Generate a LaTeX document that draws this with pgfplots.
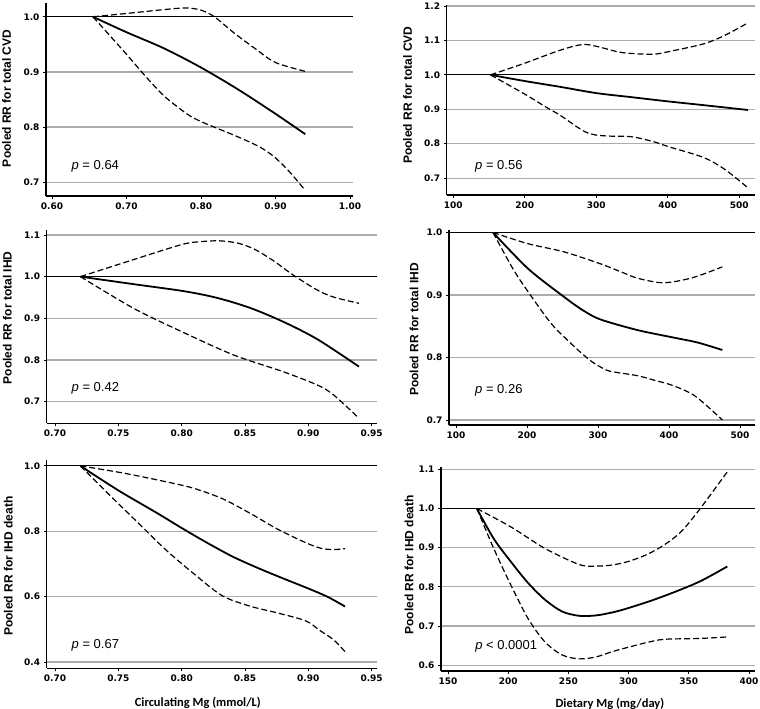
\documentclass[border=0pt]{standalone}
\usepackage{pgfplots}
\pgfplotsset{compat=1.18}
\usepackage{fontspec}
\setmainfont{Liberation Sans}
\newfontfamily\tickfont{DejaVu Sans}
\newfontfamily\calfont{Carlito}
\definecolor{gridgray}{RGB}{172,172,172}

\pgfplotsset{
  panel/.style={
    scale only axis,
    anchor=south west,
    axis x line=bottom,
    axis y line=left,
    axis line style={-, line width=1.3pt},
    tick align=outside,
    major tick length=3pt,
    every tick/.style={black, line width=0.8pt},
    ymajorgrids,
    major grid style={gridgray, line width=1.2pt},
    extra y ticks={1},
    extra y tick labels={},
    extra y tick style={major grid style={black, line width=1.2pt}},
    tick label style={font=\tickfont\bfseries\fontsize{9}{10}\selectfont},
    /pgf/number format/assume math mode=true,
    y tick label style={/pgf/number format/.cd, fixed, fixed zerofill, precision=1},
    ylabel style={font=\bfseries\fontsize{12}{14}\selectfont, anchor=center},
    xlabel style={font=\calfont\bfseries\fontsize{12.5}{14}\selectfont, anchor=center},
  },
  mgx/.style={x tick label style={/pgf/number format/.cd, fixed, fixed zerofill, precision=2}},
  dietx/.style={x tick label style={/pgf/number format/.cd, fixed, precision=0}},
  est/.style={black, line width=1.8pt, smooth, no marks},
  ci/.style={black, line width=1.2pt, dash pattern=on 6pt off 3pt, smooth, no marks},
}
\newcommand\pval[1]{{\fontsize{13}{15}\selectfont #1}}

\begin{document}
\begin{tikzpicture}
\useasboundingbox (0,0) rectangle (760pt,709pt);

% ---- circulating Mg, total CVD
\begin{axis}[panel, mgx, at={(46pt,513pt)}, width=307pt, height=193pt,
  xmin=0.592, xmax=1.004, ymin=0.675, ymax=1.025,
  xtick={0.6,0.7,0.8,0.9,1.0}, ytick={0.7,0.8,0.9,1.0},
  ylabel={Pooled RR for total CVD},
  ylabel style={at={(rel axis cs:-0.128,0.506)}}]
\addplot[est] coordinates {(0.655,1.000) (0.70,0.972) (0.75,0.943) (0.80,0.908) (0.85,0.868) (0.90,0.824) (0.94,0.787)};
\addplot[ci] coordinates {(0.655,1.000) (0.70,1.006) (0.75,1.013) (0.78,1.016) (0.80,1.012) (0.818,1.000) (0.845,0.970) (0.873,0.942) (0.90,0.917) (0.94,0.901)};
\addplot[ci] coordinates {(0.655,1.000) (0.70,0.932) (0.723,0.896) (0.75,0.857) (0.78,0.825) (0.80,0.810) (0.85,0.782) (0.88,0.763) (0.90,0.744) (0.92,0.717) (0.94,0.685)};
\node[anchor=west] at (rel axis cs:0.072,0.155) {\pval{\textit{p} = 0.64}};
\end{axis}

% ---- dietary Mg, total CVD
\begin{axis}[panel, dietx, at={(446.7pt,514pt)}, width=308.3pt, height=190pt,
  xmin=90.8, xmax=522, ymin=0.651, ymax=1.203,
  xtick={100,200,300,400,500}, ytick={0.7,0.8,0.9,1.0,1.1,1.2},
  ylabel={Pooled RR for total CVD},
  ylabel style={at={(rel axis cs:-0.127,0.526)}}]
\addplot[est] coordinates {(152,1.000) (200,0.982) (250,0.965) (300,0.947) (350,0.935) (400,0.923) (450,0.912) (512,0.898)};
\addplot[ci] coordinates {(152,1.000) (200,1.034) (250,1.072) (280,1.088) (300,1.083) (330,1.067) (350,1.062) (380,1.060) (400,1.067) (450,1.090) (480,1.115) (512,1.151)};
\addplot[ci] coordinates {(152,1.000) (200,0.944) (230,0.906) (250,0.882) (270,0.853) (285,0.834) (300,0.825) (320,0.822) (350,0.820) (380,0.806) (400,0.792) (450,0.760) (480,0.725) (512,0.672)};
\node[anchor=west] at (rel axis cs:0.081,0.153) {\pval{\textit{p} = 0.56}};
\end{axis}

% ---- circulating Mg, total IHD
\begin{axis}[panel, mgx, at={(46.7pt,285.7pt)}, width=330pt, height=193.3pt,
  xmin=0.6934, xmax=0.954, ymin=0.648, ymax=1.112,
  xtick={0.70,0.75,0.80,0.85,0.90,0.95}, ytick={0.7,0.8,0.9,1.0,1.1},
  ylabel={Pooled RR for total IHD},
  ylabel style={at={(rel axis cs:-0.119,0.545)}}]
\addplot[est] coordinates {(0.72,1.000) (0.762,0.982) (0.802,0.965) (0.828,0.949) (0.854,0.925) (0.88,0.892) (0.907,0.850) (0.94,0.784)};
\addplot[ci] coordinates {(0.72,1.000) (0.76,1.039) (0.80,1.077) (0.815,1.084) (0.83,1.086) (0.845,1.080) (0.858,1.065) (0.873,1.037) (0.888,1.004) (0.907,0.968) (0.92,0.951) (0.94,0.936)};
\addplot[ci] coordinates {(0.72,1.000) (0.762,0.924) (0.80,0.868) (0.841,0.812) (0.88,0.772) (0.907,0.740) (0.92,0.716) (0.94,0.660)};
\node[anchor=west] at (rel axis cs:0.065,0.181) {\pval{\textit{p} = 0.42}};
\end{axis}

% ---- dietary Mg, total IHD
\begin{axis}[panel, dietx, at={(449pt,284pt)}, width=306pt, height=195pt,
  xmin=90, xmax=521, ymin=0.692, ymax=1.004,
  xtick={100,200,300,400,500}, ytick={0.7,0.8,0.9,1.0},
  ylabel={Pooled RR for total IHD},
  ylabel style={at={(rel axis cs:-0.114,0.49)}}]
\addplot[est] coordinates {(152,1.000) (201.5,0.942) (252,0.897) (278,0.876) (303,0.861) (355,0.844) (405.7,0.832) (440,0.824) (475,0.812)};
\addplot[ci] coordinates {(152,1.000) (201.5,0.982) (252,0.969) (303,0.950) (334.5,0.936) (355,0.927) (385,0.920) (405.7,0.921) (437,0.929) (475,0.945)};
\addplot[ci] coordinates {(152,1.000) (180,0.942) (201.5,0.905) (232,0.857) (252,0.833) (274.6,0.809) (291.6,0.793) (303,0.785) (317,0.778) (355,0.771) (378,0.764) (405.7,0.755) (437,0.738) (475,0.700)};
\node[anchor=west] at (rel axis cs:0.074,0.18) {\pval{\textit{p} = 0.26}};
\end{axis}

% ---- circulating Mg, IHD death
\begin{axis}[panel, mgx, at={(46.7pt,40.7pt)}, width=330pt, height=208.3pt,
  xmin=0.6934, xmax=0.954, ymin=0.381, ymax=1.018,
  xtick={0.70,0.75,0.80,0.85,0.90,0.95}, ytick={0.4,0.6,0.8,1.0},
  ylabel={Pooled RR for IHD death},
  ylabel style={at={(rel axis cs:-0.116,0.49)}},
  xlabel={Circulating Mg (mmol/L)},
  xlabel style={at={(rel axis cs:0.458,0)}, yshift=-35pt}]
\addplot[est] coordinates {(0.72,1.000) (0.75,0.925) (0.78,0.857) (0.80,0.810) (0.82,0.765) (0.84,0.723) (0.86,0.688) (0.88,0.656) (0.90,0.625) (0.915,0.600) (0.929,0.570)};
\addplot[ci] coordinates {(0.72,1.000) (0.754,0.978) (0.787,0.952) (0.809,0.932) (0.832,0.900) (0.854,0.855) (0.876,0.806) (0.898,0.765) (0.91,0.748) (0.92,0.744) (0.929,0.747)};
\addplot[ci] coordinates {(0.72,1.000) (0.743,0.911) (0.765,0.828) (0.787,0.745) (0.809,0.672) (0.832,0.603) (0.854,0.571) (0.876,0.550) (0.898,0.526) (0.909,0.497) (0.92,0.468) (0.929,0.432)};
\node[anchor=west] at (rel axis cs:0.065,0.112) {\pval{\textit{p} = 0.67}};
\end{axis}

% ---- dietary Mg, IHD death
\begin{axis}[panel, dietx, at={(441pt,38pt)}, width=314pt, height=204.3pt,
  xmin=144.2, xmax=405, ymin=0.585, ymax=1.107,
  xtick={150,200,250,300,350,400}, ytick={0.6,0.7,0.8,0.9,1.0,1.1},
  ylabel={Pooled RR for IHD death},
  ylabel style={at={(rel axis cs:-0.102,0.52)}},
  xlabel={Dietary Mg (mg/day)},
  xlabel style={at={(rel axis cs:0.538,0)}, yshift=-32.5pt}]
\addplot[est] coordinates {(174,1.000) (188,0.923) (202.3,0.864) (216.5,0.810) (230.6,0.767) (244.8,0.737) (259,0.726) (273,0.727) (287,0.735) (300,0.746) (320,0.766) (340,0.789) (360,0.815) (382,0.852)};
\addplot[ci] coordinates {(174,1.000) (202.3,0.953) (230.6,0.898) (259,0.857) (273,0.853) (287,0.856) (301,0.866) (315.5,0.883) (330,0.908) (344,0.942) (359.5,1.000) (382,1.094)};
\addplot[ci] coordinates {(174,1.000) (188,0.898) (202.3,0.804) (216.5,0.719) (230.6,0.659) (244.8,0.626) (259,0.616) (273,0.621) (287,0.635) (301.4,0.647) (315.5,0.658) (329.7,0.666) (358,0.668) (382,0.672)};
\node[anchor=west] at (rel axis cs:0.098,0.119) {\pval{\textit{p} < 0.0001}};
\end{axis}
\end{tikzpicture}
\end{document}
